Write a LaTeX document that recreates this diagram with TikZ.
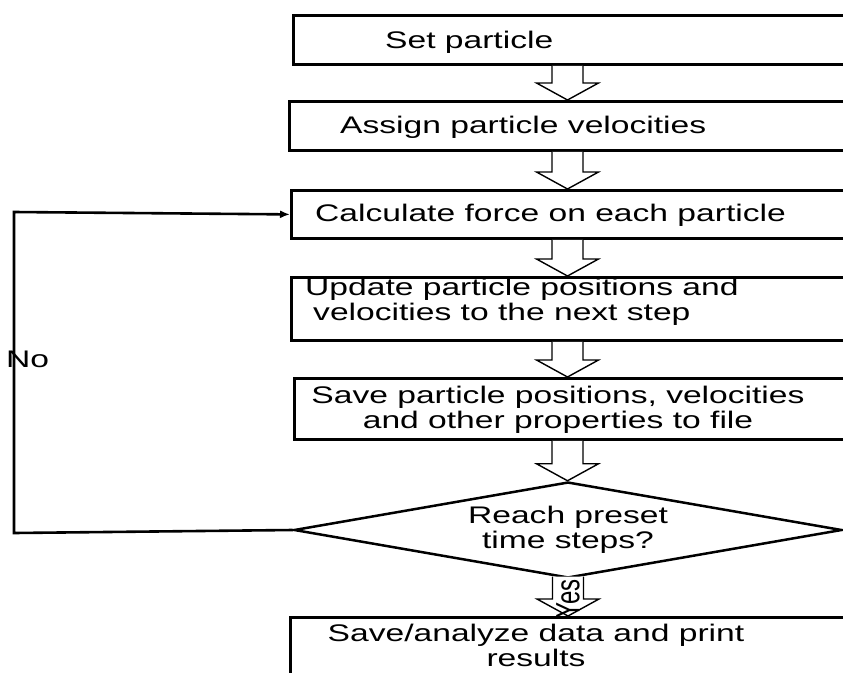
\documentclass[tikz,border=0pt]{standalone}
\usepackage{fontspec}
\setmainfont[FakeStretch=1.4]{Liberation Sans}
\newfontfamily\plainsans{Liberation Sans}
\usetikzlibrary{shapes.geometric,arrows.meta,calc}
\newcommand\blockarr[2]{%
  \draw[barrow] ($(ax|-#1.south)+(-15.5,0)$) -- ($(ax|-#2.north)+(-15.5,-17)$)
    -- ($(ax|-#2.north)+(-31,-17)$) -- (ax|-#2.north) -- ($(ax|-#2.north)+(31,-17)$)
    -- ($(ax|-#2.north)+(15.5,-17)$) -- ($(ax|-#1.south)+(15.5,0)$);}
\begin{document}
\begin{tikzpicture}[x=1pt,y=-1pt,
  every node/.style={font=\fontsize{24}{25}\selectfont},
  box/.style={draw, line width=2.8pt, rectangle, inner sep=0pt, anchor=north west, minimum width=570pt},
  txt/.style={inner sep=0pt},
  dia/.style={diamond, draw, line width=2.5pt, minimum width=548pt, minimum height=96pt, aspect=5.7, inner sep=0pt, align=center},
  barrow/.style={draw, line width=1.4pt, fill=white, line join=miter},
  loopline/.style={line width=2.6pt, -{Latex[length=10pt,width=8pt]}}]
\useasboundingbox (0,0) rectangle (843,672);
\clip (0,0) rectangle (843,672);
\fill[white] (0,0) rectangle (843,672);
\coordinate (ax) at (567.5,0);
% boxes
\node[box, minimum height=49pt] (b1) at (292,14) {};
\node[box, minimum height=49pt] (b2) at (288,100) {};
\node[box, minimum height=48pt] (b3) at (290,189) {};
\node[box, minimum height=63pt] (b4) at (290,276) {};
\node[box, minimum height=61pt] (b5) at (293,377) {};
\node[box, minimum height=80pt] (b6) at (289,616) {};
\node[dia] (d) at (568,530) {Reach preset\\time steps?};
% block arrows
\blockarr{b1}{b2}
\blockarr{b2}{b3}
\blockarr{b3}{b4}
\blockarr{b4}{b5}
\coordinate (d5) at (ax|-d.north);
\draw[barrow] ($(ax|-b5.south)+(-15.5,0)$) -- ($(d5)+(-15.5,-17)$)
    -- ($(d5)+(-31,-17)$) -- (d5) -- ($(d5)+(31,-17)$)
    -- ($(d5)+(15.5,-17)$) -- ($(ax|-b5.south)+(15.5,0)$);
\coordinate (y6) at (d.south|-b6.north);
\draw[barrow] ($(d.south)+(-15.5,-2.7)$) -- ($(y6)+(-15.5,-17)$)
    -- ($(y6)+(-31,-17)$) -- (y6) -- ($(y6)+(31,-17)$)
    -- ($(y6)+(15.5,-17)$) -- ($(d.south)+(15.5,-2.7)$);
% texts
\node[txt, anchor=base west] (t1) at (385,48) {Set particle};
\node[txt, anchor=base west] (t2) at (340,133) {Assign particle velocities};
\node[txt, anchor=base west] (t3) at (315,221) {Calculate force on each particle};
\node[txt, anchor=west, align=left] (t4) at (305,302) {Update particle positions and\\\hspace*{8pt}velocities to the next step};
\node[txt, align=center] (t5) at (558,410) {Save particle positions, velocities\\and other properties to file};
\node[txt, align=center] (t6) at (536,645) {Save/analyze data and print\\results};
\node[txt] (yes) at (568,599) {\scalebox{1.4}[1]{\rotatebox{90}{\plainsans Yes}}};
\node[txt, anchor=base west] (no) at (6,367) {No};
% loop
\coordinate (c1) at (14,533);
\coordinate (c2) at (14,212);
\draw[loopline] (d.west) -- (c1) -- (c2) -- (b3.west);
\end{tikzpicture}
\end{document}
